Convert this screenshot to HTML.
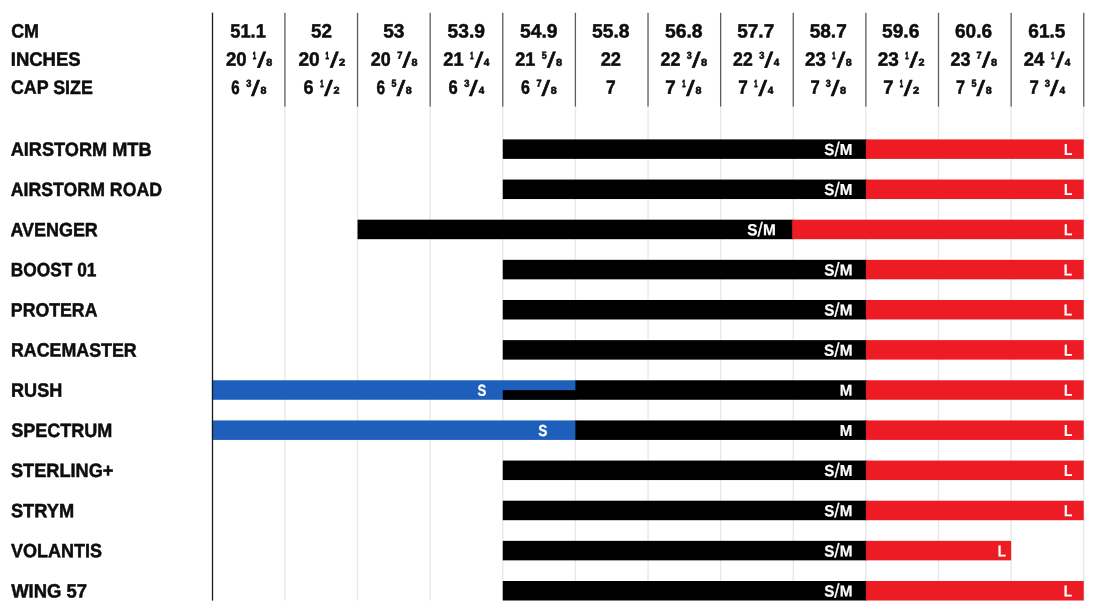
<!DOCTYPE html>
<html lang="en"><head><meta charset="utf-8"><title>Helmet size chart</title>
<style>
html,body{margin:0;padding:0;background:#fff;}
body{width:1100px;height:614px;overflow:hidden;}
svg{display:block;}
text{font-family:"Liberation Sans",sans-serif;font-weight:bold;stroke-linejoin:round;text-rendering:geometricPrecision;}
.r{font-weight:normal;}
</style></head><body>
<svg width="1100" height="614" viewBox="0 0 1100 614">
<rect width="1100" height="614" fill="#fff"/>
<g id="grid">
<rect x="284.27" y="106" width="1.3" height="494.5" fill="#e7e7e7"/>
<rect x="356.89" y="106" width="1.3" height="494.5" fill="#e7e7e7"/>
<rect x="429.51" y="106" width="1.3" height="494.5" fill="#e7e7e7"/>
<rect x="502.13" y="106" width="1.3" height="494.5" fill="#e7e7e7"/>
<rect x="574.75" y="106" width="1.3" height="494.5" fill="#e7e7e7"/>
<rect x="647.37" y="106" width="1.3" height="494.5" fill="#e7e7e7"/>
<rect x="719.99" y="106" width="1.3" height="494.5" fill="#e7e7e7"/>
<rect x="792.61" y="106" width="1.3" height="494.5" fill="#e7e7e7"/>
<rect x="865.23" y="106" width="1.3" height="494.5" fill="#e7e7e7"/>
<rect x="937.85" y="106" width="1.3" height="494.5" fill="#e7e7e7"/>
<rect x="1010.47" y="106" width="1.3" height="494.5" fill="#e7e7e7"/>
<rect x="1083.09" y="106" width="1.3" height="494.5" fill="#e7e7e7"/>
</g>
<g id="bars">
<rect x="502.78" y="139.40" width="364.10" height="19.5" fill="#000"/>
<rect x="865.88" y="139.40" width="217.86" height="19.5" fill="#ed1c24"/>
<rect x="502.78" y="179.55" width="364.10" height="19.5" fill="#000"/>
<rect x="865.88" y="179.55" width="217.86" height="19.5" fill="#ed1c24"/>
<rect x="357.54" y="219.69" width="435.63" height="19.5" fill="#000"/>
<rect x="792.17" y="219.69" width="291.57" height="19.5" fill="#ed1c24"/>
<rect x="502.78" y="259.84" width="364.10" height="19.5" fill="#000"/>
<rect x="865.88" y="259.84" width="217.86" height="19.5" fill="#ed1c24"/>
<rect x="502.78" y="299.98" width="364.10" height="19.5" fill="#000"/>
<rect x="865.88" y="299.98" width="217.86" height="19.5" fill="#ed1c24"/>
<rect x="502.78" y="340.12" width="364.10" height="19.5" fill="#000"/>
<rect x="865.88" y="340.12" width="217.86" height="19.5" fill="#ed1c24"/>
<rect x="211.90" y="380.27" width="364.50" height="19.5" fill="#1f5fbc"/>
<rect x="502.78" y="390.17" width="73.62" height="9.60" fill="#000"/>
<rect x="575.40" y="380.27" width="291.48" height="19.5" fill="#000"/>
<rect x="865.88" y="380.27" width="217.86" height="19.5" fill="#ed1c24"/>
<rect x="211.90" y="420.42" width="364.50" height="19.5" fill="#1f5fbc"/>
<rect x="575.40" y="420.42" width="291.48" height="19.5" fill="#000"/>
<rect x="865.88" y="420.42" width="217.86" height="19.5" fill="#ed1c24"/>
<rect x="502.78" y="460.56" width="364.10" height="19.5" fill="#000"/>
<rect x="865.88" y="460.56" width="217.86" height="19.5" fill="#ed1c24"/>
<rect x="502.78" y="500.71" width="364.10" height="19.5" fill="#000"/>
<rect x="865.88" y="500.71" width="217.86" height="19.5" fill="#ed1c24"/>
<rect x="502.78" y="540.85" width="364.10" height="19.5" fill="#000"/>
<rect x="865.88" y="540.85" width="145.24" height="19.5" fill="#ed1c24"/>
<rect x="502.78" y="581.00" width="364.10" height="19.5" fill="#000"/>
<rect x="865.88" y="581.00" width="217.86" height="19.5" fill="#ed1c24"/>
</g>
<g id="hdrlines">
<rect x="211.85" y="12.6" width="1.3" height="588" fill="#1a1a1a"/>
<rect x="284.27" y="12.8" width="1.3" height="93.7" fill="#5c5c5c"/>
<rect x="356.89" y="12.8" width="1.3" height="93.7" fill="#5c5c5c"/>
<rect x="429.51" y="12.8" width="1.3" height="93.7" fill="#5c5c5c"/>
<rect x="502.13" y="12.8" width="1.3" height="93.7" fill="#5c5c5c"/>
<rect x="574.75" y="12.8" width="1.3" height="93.7" fill="#5c5c5c"/>
<rect x="647.37" y="12.8" width="1.3" height="93.7" fill="#5c5c5c"/>
<rect x="719.99" y="12.8" width="1.3" height="93.7" fill="#5c5c5c"/>
<rect x="792.61" y="12.8" width="1.3" height="93.7" fill="#5c5c5c"/>
<rect x="865.23" y="12.8" width="1.3" height="93.7" fill="#5c5c5c"/>
<rect x="937.85" y="12.8" width="1.3" height="93.7" fill="#5c5c5c"/>
<rect x="1010.47" y="12.8" width="1.3" height="93.7" fill="#5c5c5c"/>
<rect x="1083.09" y="12.8" width="1.3" height="93.7" fill="#5c5c5c"/>
</g>
<g id="txt">
<text transform="translate(11.17 37.45) matrix(1 .0006 0 1 0 0)" font-size="19.3" fill="#0d0d0d" stroke="#0d0d0d" stroke-width="0.5" textLength="27.84" lengthAdjust="spacingAndGlyphs">CM</text>
<text transform="translate(10.76 65.65) matrix(1 .0006 0 1 0 0)" font-size="19.3" fill="#0d0d0d" stroke="#0d0d0d" stroke-width="0.5" textLength="69.91" lengthAdjust="spacingAndGlyphs">INCHES</text>
<text transform="translate(10.95 93.85) matrix(1 .0006 0 1 0 0)" font-size="19.3" fill="#0d0d0d" stroke="#0d0d0d" stroke-width="0.5" textLength="81.87" lengthAdjust="spacingAndGlyphs">CAP SIZE</text>
<text transform="translate(10.63 155.85) matrix(1 .0006 0 1 0 0)" font-size="19.3" fill="#0d0d0d" stroke="#0d0d0d" stroke-width="0.5" textLength="140.96" lengthAdjust="spacingAndGlyphs">AIRSTORM MTB</text>
<text transform="translate(10.71 196.00) matrix(1 .0006 0 1 0 0)" font-size="19.3" fill="#0d0d0d" stroke="#0d0d0d" stroke-width="0.5" textLength="151.32" lengthAdjust="spacingAndGlyphs">AIRSTORM ROAD</text>
<text transform="translate(10.44 236.14) matrix(1 .0006 0 1 0 0)" font-size="19.3" fill="#0d0d0d" stroke="#0d0d0d" stroke-width="0.5" textLength="87.37" lengthAdjust="spacingAndGlyphs">AVENGER</text>
<text transform="translate(10.84 276.28) matrix(1 .0006 0 1 0 0)" font-size="19.3" fill="#0d0d0d" stroke="#0d0d0d" stroke-width="0.5" textLength="85.64" lengthAdjust="spacingAndGlyphs">BOOST 01</text>
<text transform="translate(10.86 316.43) matrix(1 .0006 0 1 0 0)" font-size="19.3" fill="#0d0d0d" stroke="#0d0d0d" stroke-width="0.5" textLength="86.59" lengthAdjust="spacingAndGlyphs">PROTERA</text>
<text transform="translate(11.01 356.58) matrix(1 .0006 0 1 0 0)" font-size="19.3" fill="#0d0d0d" stroke="#0d0d0d" stroke-width="0.5" textLength="125.67" lengthAdjust="spacingAndGlyphs">RACEMASTER</text>
<text transform="translate(11.01 396.72) matrix(1 .0006 0 1 0 0)" font-size="19.3" fill="#0d0d0d" stroke="#0d0d0d" stroke-width="0.5" textLength="51.25" lengthAdjust="spacingAndGlyphs">RUSH</text>
<text transform="translate(11.15 436.87) matrix(1 .0006 0 1 0 0)" font-size="19.3" fill="#0d0d0d" stroke="#0d0d0d" stroke-width="0.5" textLength="101.22" lengthAdjust="spacingAndGlyphs">SPECTRUM</text>
<text transform="translate(10.99 477.01) matrix(1 .0006 0 1 0 0)" font-size="19.3" fill="#0d0d0d" stroke="#0d0d0d" stroke-width="0.5" textLength="102.45" lengthAdjust="spacingAndGlyphs">STERLING+</text>
<text transform="translate(10.92 517.15) matrix(1 .0006 0 1 0 0)" font-size="19.3" fill="#0d0d0d" stroke="#0d0d0d" stroke-width="0.5" textLength="63.22" lengthAdjust="spacingAndGlyphs">STRYM</text>
<text transform="translate(10.92 557.30) matrix(1 .0006 0 1 0 0)" font-size="19.3" fill="#0d0d0d" stroke="#0d0d0d" stroke-width="0.5" textLength="91.04" lengthAdjust="spacingAndGlyphs">VOLANTIS</text>
<text transform="translate(11.13 597.45) matrix(1 .0006 0 1 0 0)" font-size="19.3" fill="#0d0d0d" stroke="#0d0d0d" stroke-width="0.5" textLength="75.97" lengthAdjust="spacingAndGlyphs">WING 57</text>
<text transform="translate(230.23 37.45) matrix(1 .0006 0 1 0 0)" font-size="19.3" fill="#0d0d0d" stroke="#0d0d0d" stroke-width="0.5" textLength="35.62" lengthAdjust="spacingAndGlyphs">51.1</text>
<text transform="translate(225.90 65.65) matrix(1 .0006 0 1 0 0)" font-size="19.3" fill="#0d0d0d" stroke="#0d0d0d" stroke-width="0.5" textLength="20.63" lengthAdjust="spacingAndGlyphs">20</text>
<text transform="translate(252.82 58.65) matrix(1 .0006 0 1 0 0)" font-size="10.1" fill="#0d0d0d" stroke="#0d0d0d" stroke-width="0.9" textLength="3.40" lengthAdjust="spacingAndGlyphs">1</text>
<text class="r" transform="translate(257.19 67.50) matrix(1 .0006 0 1 0 0)" font-size="21.7" fill="#0d0d0d" stroke="#0d0d0d" stroke-width="0.6" textLength="8.62" lengthAdjust="spacingAndGlyphs">/</text>
<text transform="translate(266.24 65.65) matrix(1 .0006 0 1 0 0)" font-size="10.1" fill="#0d0d0d" stroke="#0d0d0d" stroke-width="0.6" textLength="5.98" lengthAdjust="spacingAndGlyphs">8</text>
<text transform="translate(231.30 93.85) matrix(1 .0006 0 1 0 0)" font-size="19.3" fill="#0d0d0d" stroke="#0d0d0d" stroke-width="0.5" textLength="8.38" lengthAdjust="spacingAndGlyphs">6</text>
<text transform="translate(246.19 86.85) matrix(1 .0006 0 1 0 0)" font-size="10.1" fill="#0d0d0d" stroke="#0d0d0d" stroke-width="0.6" textLength="5.16" lengthAdjust="spacingAndGlyphs">3</text>
<text class="r" transform="translate(251.31 95.70) matrix(1 .0006 0 1 0 0)" font-size="21.7" fill="#0d0d0d" stroke="#0d0d0d" stroke-width="0.6" textLength="8.47" lengthAdjust="spacingAndGlyphs">/</text>
<text transform="translate(260.40 93.85) matrix(1 .0006 0 1 0 0)" font-size="10.1" fill="#0d0d0d" stroke="#0d0d0d" stroke-width="0.6" textLength="5.97" lengthAdjust="spacingAndGlyphs">8</text>
<text transform="translate(311.12 37.45) matrix(1 .0006 0 1 0 0)" font-size="19.3" fill="#0d0d0d" stroke="#0d0d0d" stroke-width="0.5" textLength="20.90" lengthAdjust="spacingAndGlyphs">52</text>
<text transform="translate(298.41 65.65) matrix(1 .0006 0 1 0 0)" font-size="19.3" fill="#0d0d0d" stroke="#0d0d0d" stroke-width="0.5" textLength="21.31" lengthAdjust="spacingAndGlyphs">20</text>
<text transform="translate(325.58 58.65) matrix(1 .0006 0 1 0 0)" font-size="10.1" fill="#0d0d0d" stroke="#0d0d0d" stroke-width="0.9" textLength="3.41" lengthAdjust="spacingAndGlyphs">1</text>
<text class="r" transform="translate(329.92 67.50) matrix(1 .0006 0 1 0 0)" font-size="21.7" fill="#0d0d0d" stroke="#0d0d0d" stroke-width="0.6" textLength="8.50" lengthAdjust="spacingAndGlyphs">/</text>
<text transform="translate(339.02 65.65) matrix(1 .0006 0 1 0 0)" font-size="10.1" fill="#0d0d0d" stroke="#0d0d0d" stroke-width="0.6" textLength="6.15" lengthAdjust="spacingAndGlyphs">2</text>
<text transform="translate(303.62 93.85) matrix(1 .0006 0 1 0 0)" font-size="19.3" fill="#0d0d0d" stroke="#0d0d0d" stroke-width="0.5" textLength="10.00" lengthAdjust="spacingAndGlyphs">6</text>
<text transform="translate(320.17 86.85) matrix(1 .0006 0 1 0 0)" font-size="10.1" fill="#0d0d0d" stroke="#0d0d0d" stroke-width="0.9" textLength="3.28" lengthAdjust="spacingAndGlyphs">1</text>
<text class="r" transform="translate(324.31 95.70) matrix(1 .0006 0 1 0 0)" font-size="21.7" fill="#0d0d0d" stroke="#0d0d0d" stroke-width="0.6" textLength="8.47" lengthAdjust="spacingAndGlyphs">/</text>
<text transform="translate(333.50 93.85) matrix(1 .0006 0 1 0 0)" font-size="10.1" fill="#0d0d0d" stroke="#0d0d0d" stroke-width="0.6" textLength="6.00" lengthAdjust="spacingAndGlyphs">2</text>
<text transform="translate(383.16 37.45) matrix(1 .0006 0 1 0 0)" font-size="19.3" fill="#0d0d0d" stroke="#0d0d0d" stroke-width="0.5" textLength="21.26" lengthAdjust="spacingAndGlyphs">53</text>
<text transform="translate(370.86 65.65) matrix(1 .0006 0 1 0 0)" font-size="19.3" fill="#0d0d0d" stroke="#0d0d0d" stroke-width="0.5" textLength="19.92" lengthAdjust="spacingAndGlyphs">20</text>
<text transform="translate(397.14 58.65) matrix(1 .0006 0 1 0 0)" font-size="10.1" fill="#0d0d0d" stroke="#0d0d0d" stroke-width="0.6" textLength="5.23" lengthAdjust="spacingAndGlyphs">7</text>
<text class="r" transform="translate(402.40 67.50) matrix(1 .0006 0 1 0 0)" font-size="21.7" fill="#0d0d0d" stroke="#0d0d0d" stroke-width="0.6" textLength="8.52" lengthAdjust="spacingAndGlyphs">/</text>
<text transform="translate(411.40 65.65) matrix(1 .0006 0 1 0 0)" font-size="10.1" fill="#0d0d0d" stroke="#0d0d0d" stroke-width="0.6" textLength="5.97" lengthAdjust="spacingAndGlyphs">8</text>
<text transform="translate(376.43 93.85) matrix(1 .0006 0 1 0 0)" font-size="19.3" fill="#0d0d0d" stroke="#0d0d0d" stroke-width="0.5" textLength="8.59" lengthAdjust="spacingAndGlyphs">6</text>
<text transform="translate(391.40 86.85) matrix(1 .0006 0 1 0 0)" font-size="10.1" fill="#0d0d0d" stroke="#0d0d0d" stroke-width="0.6" textLength="4.94" lengthAdjust="spacingAndGlyphs">5</text>
<text class="r" transform="translate(396.75 95.70) matrix(1 .0006 0 1 0 0)" font-size="21.7" fill="#0d0d0d" stroke="#0d0d0d" stroke-width="0.6" textLength="8.49" lengthAdjust="spacingAndGlyphs">/</text>
<text transform="translate(405.83 93.85) matrix(1 .0006 0 1 0 0)" font-size="10.1" fill="#0d0d0d" stroke="#0d0d0d" stroke-width="0.6" textLength="5.97" lengthAdjust="spacingAndGlyphs">8</text>
<text transform="translate(447.61 37.45) matrix(1 .0006 0 1 0 0)" font-size="19.3" fill="#0d0d0d" stroke="#0d0d0d" stroke-width="0.5" textLength="37.42" lengthAdjust="spacingAndGlyphs">53.9</text>
<text transform="translate(443.33 65.65) matrix(1 .0006 0 1 0 0)" font-size="19.3" fill="#0d0d0d" stroke="#0d0d0d" stroke-width="0.5" textLength="20.30" lengthAdjust="spacingAndGlyphs">21</text>
<text transform="translate(470.21 58.65) matrix(1 .0006 0 1 0 0)" font-size="10.1" fill="#0d0d0d" stroke="#0d0d0d" stroke-width="0.9" textLength="3.19" lengthAdjust="spacingAndGlyphs">1</text>
<text class="r" transform="translate(474.73 67.50) matrix(1 .0006 0 1 0 0)" font-size="21.7" fill="#0d0d0d" stroke="#0d0d0d" stroke-width="0.6" textLength="8.50" lengthAdjust="spacingAndGlyphs">/</text>
<text transform="translate(483.80 65.65) matrix(1 .0006 0 1 0 0)" font-size="10.1" fill="#0d0d0d" stroke="#0d0d0d" stroke-width="0.6" textLength="5.52" lengthAdjust="spacingAndGlyphs">4</text>
<text transform="translate(448.45 93.85) matrix(1 .0006 0 1 0 0)" font-size="19.3" fill="#0d0d0d" stroke="#0d0d0d" stroke-width="0.5" textLength="9.19" lengthAdjust="spacingAndGlyphs">6</text>
<text transform="translate(464.19 86.85) matrix(1 .0006 0 1 0 0)" font-size="10.1" fill="#0d0d0d" stroke="#0d0d0d" stroke-width="0.6" textLength="5.16" lengthAdjust="spacingAndGlyphs">3</text>
<text class="r" transform="translate(469.31 95.70) matrix(1 .0006 0 1 0 0)" font-size="21.7" fill="#0d0d0d" stroke="#0d0d0d" stroke-width="0.6" textLength="8.47" lengthAdjust="spacingAndGlyphs">/</text>
<text transform="translate(478.67 93.85) matrix(1 .0006 0 1 0 0)" font-size="10.1" fill="#0d0d0d" stroke="#0d0d0d" stroke-width="0.6" textLength="5.47" lengthAdjust="spacingAndGlyphs">4</text>
<text transform="translate(520.00 37.45) matrix(1 .0006 0 1 0 0)" font-size="19.3" fill="#0d0d0d" stroke="#0d0d0d" stroke-width="0.5" textLength="37.58" lengthAdjust="spacingAndGlyphs">54.9</text>
<text transform="translate(515.14 65.65) matrix(1 .0006 0 1 0 0)" font-size="19.3" fill="#0d0d0d" stroke="#0d0d0d" stroke-width="0.5" textLength="20.04" lengthAdjust="spacingAndGlyphs">21</text>
<text transform="translate(541.80 58.65) matrix(1 .0006 0 1 0 0)" font-size="10.1" fill="#0d0d0d" stroke="#0d0d0d" stroke-width="0.6" textLength="4.92" lengthAdjust="spacingAndGlyphs">5</text>
<text class="r" transform="translate(546.92 67.50) matrix(1 .0006 0 1 0 0)" font-size="21.7" fill="#0d0d0d" stroke="#0d0d0d" stroke-width="0.6" textLength="8.50" lengthAdjust="spacingAndGlyphs">/</text>
<text transform="translate(555.89 65.65) matrix(1 .0006 0 1 0 0)" font-size="10.1" fill="#0d0d0d" stroke="#0d0d0d" stroke-width="0.6" textLength="6.12" lengthAdjust="spacingAndGlyphs">8</text>
<text transform="translate(521.08 93.85) matrix(1 .0006 0 1 0 0)" font-size="19.3" fill="#0d0d0d" stroke="#0d0d0d" stroke-width="0.5" textLength="8.87" lengthAdjust="spacingAndGlyphs">6</text>
<text transform="translate(536.38 86.85) matrix(1 .0006 0 1 0 0)" font-size="10.1" fill="#0d0d0d" stroke="#0d0d0d" stroke-width="0.6" textLength="5.06" lengthAdjust="spacingAndGlyphs">7</text>
<text class="r" transform="translate(541.49 95.70) matrix(1 .0006 0 1 0 0)" font-size="21.7" fill="#0d0d0d" stroke="#0d0d0d" stroke-width="0.6" textLength="8.48" lengthAdjust="spacingAndGlyphs">/</text>
<text transform="translate(550.69 93.85) matrix(1 .0006 0 1 0 0)" font-size="10.1" fill="#0d0d0d" stroke="#0d0d0d" stroke-width="0.6" textLength="5.99" lengthAdjust="spacingAndGlyphs">8</text>
<text transform="translate(592.00 37.45) matrix(1 .0006 0 1 0 0)" font-size="19.3" fill="#0d0d0d" stroke="#0d0d0d" stroke-width="0.5" textLength="37.56" lengthAdjust="spacingAndGlyphs">55.8</text>
<text transform="translate(600.70 65.65) matrix(1 .0006 0 1 0 0)" font-size="19.3" fill="#0d0d0d" stroke="#0d0d0d" stroke-width="0.5" textLength="20.35" lengthAdjust="spacingAndGlyphs">22</text>
<text transform="translate(605.89 93.85) matrix(1 .0006 0 1 0 0)" font-size="19.3" fill="#0d0d0d" stroke="#0d0d0d" stroke-width="0.5" textLength="9.66" lengthAdjust="spacingAndGlyphs">7</text>
<text transform="translate(665.00 37.45) matrix(1 .0006 0 1 0 0)" font-size="19.3" fill="#0d0d0d" stroke="#0d0d0d" stroke-width="0.5" textLength="37.56" lengthAdjust="spacingAndGlyphs">56.8</text>
<text transform="translate(660.55 65.65) matrix(1 .0006 0 1 0 0)" font-size="19.3" fill="#0d0d0d" stroke="#0d0d0d" stroke-width="0.5" textLength="19.88" lengthAdjust="spacingAndGlyphs">22</text>
<text transform="translate(686.74 58.65) matrix(1 .0006 0 1 0 0)" font-size="10.1" fill="#0d0d0d" stroke="#0d0d0d" stroke-width="0.6" textLength="5.01" lengthAdjust="spacingAndGlyphs">3</text>
<text class="r" transform="translate(691.92 67.50) matrix(1 .0006 0 1 0 0)" font-size="21.7" fill="#0d0d0d" stroke="#0d0d0d" stroke-width="0.6" textLength="8.50" lengthAdjust="spacingAndGlyphs">/</text>
<text transform="translate(700.89 65.65) matrix(1 .0006 0 1 0 0)" font-size="10.1" fill="#0d0d0d" stroke="#0d0d0d" stroke-width="0.6" textLength="6.12" lengthAdjust="spacingAndGlyphs">8</text>
<text transform="translate(665.34 93.85) matrix(1 .0006 0 1 0 0)" font-size="19.3" fill="#0d0d0d" stroke="#0d0d0d" stroke-width="0.5" textLength="10.44" lengthAdjust="spacingAndGlyphs">7</text>
<text transform="translate(682.17 86.85) matrix(1 .0006 0 1 0 0)" font-size="10.1" fill="#0d0d0d" stroke="#0d0d0d" stroke-width="0.9" textLength="3.28" lengthAdjust="spacingAndGlyphs">1</text>
<text class="r" transform="translate(686.31 95.70) matrix(1 .0006 0 1 0 0)" font-size="21.7" fill="#0d0d0d" stroke="#0d0d0d" stroke-width="0.6" textLength="8.47" lengthAdjust="spacingAndGlyphs">/</text>
<text transform="translate(695.40 93.85) matrix(1 .0006 0 1 0 0)" font-size="10.1" fill="#0d0d0d" stroke="#0d0d0d" stroke-width="0.6" textLength="5.97" lengthAdjust="spacingAndGlyphs">8</text>
<text transform="translate(737.24 37.45) matrix(1 .0006 0 1 0 0)" font-size="19.3" fill="#0d0d0d" stroke="#0d0d0d" stroke-width="0.5" textLength="36.95" lengthAdjust="spacingAndGlyphs">57.7</text>
<text transform="translate(733.12 65.65) matrix(1 .0006 0 1 0 0)" font-size="19.3" fill="#0d0d0d" stroke="#0d0d0d" stroke-width="0.5" textLength="19.56" lengthAdjust="spacingAndGlyphs">22</text>
<text transform="translate(759.19 58.65) matrix(1 .0006 0 1 0 0)" font-size="10.1" fill="#0d0d0d" stroke="#0d0d0d" stroke-width="0.6" textLength="5.16" lengthAdjust="spacingAndGlyphs">3</text>
<text class="r" transform="translate(764.40 67.50) matrix(1 .0006 0 1 0 0)" font-size="21.7" fill="#0d0d0d" stroke="#0d0d0d" stroke-width="0.6" textLength="8.52" lengthAdjust="spacingAndGlyphs">/</text>
<text transform="translate(773.67 65.65) matrix(1 .0006 0 1 0 0)" font-size="10.1" fill="#0d0d0d" stroke="#0d0d0d" stroke-width="0.6" textLength="5.47" lengthAdjust="spacingAndGlyphs">4</text>
<text transform="translate(738.36 93.85) matrix(1 .0006 0 1 0 0)" font-size="19.3" fill="#0d0d0d" stroke="#0d0d0d" stroke-width="0.5" textLength="9.55" lengthAdjust="spacingAndGlyphs">7</text>
<text transform="translate(754.21 86.85) matrix(1 .0006 0 1 0 0)" font-size="10.1" fill="#0d0d0d" stroke="#0d0d0d" stroke-width="0.9" textLength="3.19" lengthAdjust="spacingAndGlyphs">1</text>
<text class="r" transform="translate(758.49 95.70) matrix(1 .0006 0 1 0 0)" font-size="21.7" fill="#0d0d0d" stroke="#0d0d0d" stroke-width="0.6" textLength="8.48" lengthAdjust="spacingAndGlyphs">/</text>
<text transform="translate(767.80 93.85) matrix(1 .0006 0 1 0 0)" font-size="10.1" fill="#0d0d0d" stroke="#0d0d0d" stroke-width="0.6" textLength="5.52" lengthAdjust="spacingAndGlyphs">4</text>
<text transform="translate(809.64 37.45) matrix(1 .0006 0 1 0 0)" font-size="19.3" fill="#0d0d0d" stroke="#0d0d0d" stroke-width="0.5" textLength="37.14" lengthAdjust="spacingAndGlyphs">58.7</text>
<text transform="translate(805.12 65.65) matrix(1 .0006 0 1 0 0)" font-size="19.3" fill="#0d0d0d" stroke="#0d0d0d" stroke-width="0.5" textLength="20.81" lengthAdjust="spacingAndGlyphs">23</text>
<text transform="translate(832.21 58.65) matrix(1 .0006 0 1 0 0)" font-size="10.1" fill="#0d0d0d" stroke="#0d0d0d" stroke-width="0.9" textLength="3.19" lengthAdjust="spacingAndGlyphs">1</text>
<text class="r" transform="translate(836.73 67.50) matrix(1 .0006 0 1 0 0)" font-size="21.7" fill="#0d0d0d" stroke="#0d0d0d" stroke-width="0.6" textLength="8.50" lengthAdjust="spacingAndGlyphs">/</text>
<text transform="translate(845.69 65.65) matrix(1 .0006 0 1 0 0)" font-size="10.1" fill="#0d0d0d" stroke="#0d0d0d" stroke-width="0.6" textLength="5.99" lengthAdjust="spacingAndGlyphs">8</text>
<text transform="translate(810.47 93.85) matrix(1 .0006 0 1 0 0)" font-size="19.3" fill="#0d0d0d" stroke="#0d0d0d" stroke-width="0.5" textLength="9.25" lengthAdjust="spacingAndGlyphs">7</text>
<text transform="translate(825.74 86.85) matrix(1 .0006 0 1 0 0)" font-size="10.1" fill="#0d0d0d" stroke="#0d0d0d" stroke-width="0.6" textLength="5.01" lengthAdjust="spacingAndGlyphs">3</text>
<text class="r" transform="translate(830.92 95.70) matrix(1 .0006 0 1 0 0)" font-size="21.7" fill="#0d0d0d" stroke="#0d0d0d" stroke-width="0.6" textLength="8.47" lengthAdjust="spacingAndGlyphs">/</text>
<text transform="translate(839.89 93.85) matrix(1 .0006 0 1 0 0)" font-size="10.1" fill="#0d0d0d" stroke="#0d0d0d" stroke-width="0.6" textLength="6.12" lengthAdjust="spacingAndGlyphs">8</text>
<text transform="translate(881.99 37.45) matrix(1 .0006 0 1 0 0)" font-size="19.3" fill="#0d0d0d" stroke="#0d0d0d" stroke-width="0.5" textLength="37.32" lengthAdjust="spacingAndGlyphs">59.6</text>
<text transform="translate(877.65 65.65) matrix(1 .0006 0 1 0 0)" font-size="19.3" fill="#0d0d0d" stroke="#0d0d0d" stroke-width="0.5" textLength="21.12" lengthAdjust="spacingAndGlyphs">23</text>
<text transform="translate(905.17 58.65) matrix(1 .0006 0 1 0 0)" font-size="10.1" fill="#0d0d0d" stroke="#0d0d0d" stroke-width="0.9" textLength="3.28" lengthAdjust="spacingAndGlyphs">1</text>
<text class="r" transform="translate(909.40 67.50) matrix(1 .0006 0 1 0 0)" font-size="21.7" fill="#0d0d0d" stroke="#0d0d0d" stroke-width="0.6" textLength="8.52" lengthAdjust="spacingAndGlyphs">/</text>
<text transform="translate(918.50 65.65) matrix(1 .0006 0 1 0 0)" font-size="10.1" fill="#0d0d0d" stroke="#0d0d0d" stroke-width="0.6" textLength="6.00" lengthAdjust="spacingAndGlyphs">2</text>
<text transform="translate(883.14 93.85) matrix(1 .0006 0 1 0 0)" font-size="19.3" fill="#0d0d0d" stroke="#0d0d0d" stroke-width="0.5" textLength="10.28" lengthAdjust="spacingAndGlyphs">7</text>
<text transform="translate(899.66 86.85) matrix(1 .0006 0 1 0 0)" font-size="10.1" fill="#0d0d0d" stroke="#0d0d0d" stroke-width="0.9" textLength="3.25" lengthAdjust="spacingAndGlyphs">1</text>
<text class="r" transform="translate(903.77 95.70) matrix(1 .0006 0 1 0 0)" font-size="21.7" fill="#0d0d0d" stroke="#0d0d0d" stroke-width="0.6" textLength="8.48" lengthAdjust="spacingAndGlyphs">/</text>
<text transform="translate(912.90 93.85) matrix(1 .0006 0 1 0 0)" font-size="10.1" fill="#0d0d0d" stroke="#0d0d0d" stroke-width="0.6" textLength="6.17" lengthAdjust="spacingAndGlyphs">2</text>
<text transform="translate(955.04 37.45) matrix(1 .0006 0 1 0 0)" font-size="19.3" fill="#0d0d0d" stroke="#0d0d0d" stroke-width="0.5" textLength="36.92" lengthAdjust="spacingAndGlyphs">60.6</text>
<text transform="translate(950.54 65.65) matrix(1 .0006 0 1 0 0)" font-size="19.3" fill="#0d0d0d" stroke="#0d0d0d" stroke-width="0.5" textLength="19.92" lengthAdjust="spacingAndGlyphs">23</text>
<text transform="translate(976.58 58.65) matrix(1 .0006 0 1 0 0)" font-size="10.1" fill="#0d0d0d" stroke="#0d0d0d" stroke-width="0.6" textLength="5.13" lengthAdjust="spacingAndGlyphs">7</text>
<text class="r" transform="translate(981.92 67.50) matrix(1 .0006 0 1 0 0)" font-size="21.7" fill="#0d0d0d" stroke="#0d0d0d" stroke-width="0.6" textLength="8.50" lengthAdjust="spacingAndGlyphs">/</text>
<text transform="translate(990.89 65.65) matrix(1 .0006 0 1 0 0)" font-size="10.1" fill="#0d0d0d" stroke="#0d0d0d" stroke-width="0.6" textLength="6.12" lengthAdjust="spacingAndGlyphs">8</text>
<text transform="translate(955.95 93.85) matrix(1 .0006 0 1 0 0)" font-size="19.3" fill="#0d0d0d" stroke="#0d0d0d" stroke-width="0.5" textLength="9.02" lengthAdjust="spacingAndGlyphs">7</text>
<text transform="translate(971.45 86.85) matrix(1 .0006 0 1 0 0)" font-size="10.1" fill="#0d0d0d" stroke="#0d0d0d" stroke-width="0.6" textLength="4.98" lengthAdjust="spacingAndGlyphs">5</text>
<text class="r" transform="translate(976.49 95.70) matrix(1 .0006 0 1 0 0)" font-size="21.7" fill="#0d0d0d" stroke="#0d0d0d" stroke-width="0.6" textLength="8.48" lengthAdjust="spacingAndGlyphs">/</text>
<text transform="translate(985.69 93.85) matrix(1 .0006 0 1 0 0)" font-size="10.1" fill="#0d0d0d" stroke="#0d0d0d" stroke-width="0.6" textLength="5.99" lengthAdjust="spacingAndGlyphs">8</text>
<text transform="translate(1028.32 37.45) matrix(1 .0006 0 1 0 0)" font-size="19.3" fill="#0d0d0d" stroke="#0d0d0d" stroke-width="0.5" textLength="37.11" lengthAdjust="spacingAndGlyphs">61.5</text>
<text transform="translate(1023.73 65.65) matrix(1 .0006 0 1 0 0)" font-size="19.3" fill="#0d0d0d" stroke="#0d0d0d" stroke-width="0.5" textLength="20.55" lengthAdjust="spacingAndGlyphs">24</text>
<text transform="translate(1051.21 58.65) matrix(1 .0006 0 1 0 0)" font-size="10.1" fill="#0d0d0d" stroke="#0d0d0d" stroke-width="0.9" textLength="3.19" lengthAdjust="spacingAndGlyphs">1</text>
<text class="r" transform="translate(1055.73 67.50) matrix(1 .0006 0 1 0 0)" font-size="21.7" fill="#0d0d0d" stroke="#0d0d0d" stroke-width="0.6" textLength="8.50" lengthAdjust="spacingAndGlyphs">/</text>
<text transform="translate(1064.80 65.65) matrix(1 .0006 0 1 0 0)" font-size="10.1" fill="#0d0d0d" stroke="#0d0d0d" stroke-width="0.6" textLength="5.52" lengthAdjust="spacingAndGlyphs">4</text>
<text transform="translate(1029.39 93.85) matrix(1 .0006 0 1 0 0)" font-size="19.3" fill="#0d0d0d" stroke="#0d0d0d" stroke-width="0.5" textLength="9.31" lengthAdjust="spacingAndGlyphs">7</text>
<text transform="translate(1044.74 86.85) matrix(1 .0006 0 1 0 0)" font-size="10.1" fill="#0d0d0d" stroke="#0d0d0d" stroke-width="0.6" textLength="5.18" lengthAdjust="spacingAndGlyphs">3</text>
<text class="r" transform="translate(1050.08 95.70) matrix(1 .0006 0 1 0 0)" font-size="21.7" fill="#0d0d0d" stroke="#0d0d0d" stroke-width="0.6" textLength="8.47" lengthAdjust="spacingAndGlyphs">/</text>
<text transform="translate(1059.40 93.85) matrix(1 .0006 0 1 0 0)" font-size="10.1" fill="#0d0d0d" stroke="#0d0d0d" stroke-width="0.6" textLength="5.61" lengthAdjust="spacingAndGlyphs">4</text>
<text transform="translate(824.24 154.95) matrix(1 .0006 0 1 0 0)" font-size="16.0" fill="#fff" stroke="#fff" stroke-width="0.2" textLength="28.13" lengthAdjust="spacingAndGlyphs">S<tspan class="r" font-size="20" dy="1.1">/</tspan><tspan dy="-1.1">M</tspan></text>
<text transform="translate(1063.91 154.95) matrix(1 .0006 0 1 0 0)" font-size="16.0" fill="#fff" stroke="#fff" stroke-width="0.2" textLength="8.40" lengthAdjust="spacingAndGlyphs">L</text>
<text transform="translate(824.24 195.10) matrix(1 .0006 0 1 0 0)" font-size="16.0" fill="#fff" stroke="#fff" stroke-width="0.2" textLength="28.13" lengthAdjust="spacingAndGlyphs">S<tspan class="r" font-size="20" dy="1.1">/</tspan><tspan dy="-1.1">M</tspan></text>
<text transform="translate(1063.91 195.10) matrix(1 .0006 0 1 0 0)" font-size="16.0" fill="#fff" stroke="#fff" stroke-width="0.2" textLength="8.40" lengthAdjust="spacingAndGlyphs">L</text>
<text transform="translate(747.33 235.24) matrix(1 .0006 0 1 0 0)" font-size="16.0" fill="#fff" stroke="#fff" stroke-width="0.2" textLength="28.49" lengthAdjust="spacingAndGlyphs">S<tspan class="r" font-size="20" dy="1.1">/</tspan><tspan dy="-1.1">M</tspan></text>
<text transform="translate(1063.91 235.24) matrix(1 .0006 0 1 0 0)" font-size="16.0" fill="#fff" stroke="#fff" stroke-width="0.2" textLength="8.40" lengthAdjust="spacingAndGlyphs">L</text>
<text transform="translate(824.14 275.39) matrix(1 .0006 0 1 0 0)" font-size="16.0" fill="#fff" stroke="#fff" stroke-width="0.2" textLength="28.31" lengthAdjust="spacingAndGlyphs">S<tspan class="r" font-size="20" dy="1.1">/</tspan><tspan dy="-1.1">M</tspan></text>
<text transform="translate(1063.87 275.39) matrix(1 .0006 0 1 0 0)" font-size="16.0" fill="#fff" stroke="#fff" stroke-width="0.2" textLength="8.35" lengthAdjust="spacingAndGlyphs">L</text>
<text transform="translate(824.14 315.53) matrix(1 .0006 0 1 0 0)" font-size="16.0" fill="#fff" stroke="#fff" stroke-width="0.2" textLength="28.31" lengthAdjust="spacingAndGlyphs">S<tspan class="r" font-size="20" dy="1.1">/</tspan><tspan dy="-1.1">M</tspan></text>
<text transform="translate(1063.87 315.53) matrix(1 .0006 0 1 0 0)" font-size="16.0" fill="#fff" stroke="#fff" stroke-width="0.2" textLength="8.35" lengthAdjust="spacingAndGlyphs">L</text>
<text transform="translate(824.09 355.68) matrix(1 .0006 0 1 0 0)" font-size="16.0" fill="#fff" stroke="#fff" stroke-width="0.2" textLength="28.40" lengthAdjust="spacingAndGlyphs">S<tspan class="r" font-size="20" dy="1.1">/</tspan><tspan dy="-1.1">M</tspan></text>
<text transform="translate(1063.88 355.68) matrix(1 .0006 0 1 0 0)" font-size="16.0" fill="#fff" stroke="#fff" stroke-width="0.2" textLength="8.35" lengthAdjust="spacingAndGlyphs">L</text>
<text transform="translate(477.60 395.82) matrix(1 .0006 0 1 0 0)" font-size="16.0" fill="#fff" stroke="#fff" stroke-width="0.2" textLength="8.88" lengthAdjust="spacingAndGlyphs">S</text>
<text transform="translate(839.81 395.82) matrix(1 .0006 0 1 0 0)" font-size="16.0" fill="#fff" stroke="#fff" stroke-width="0.2" textLength="12.60" lengthAdjust="spacingAndGlyphs">M</text>
<text transform="translate(1063.88 395.82) matrix(1 .0006 0 1 0 0)" font-size="16.0" fill="#fff" stroke="#fff" stroke-width="0.2" textLength="8.35" lengthAdjust="spacingAndGlyphs">L</text>
<text transform="translate(538.31 435.97) matrix(1 .0006 0 1 0 0)" font-size="16.0" fill="#fff" stroke="#fff" stroke-width="0.2" textLength="9.18" lengthAdjust="spacingAndGlyphs">S</text>
<text transform="translate(839.81 435.97) matrix(1 .0006 0 1 0 0)" font-size="16.0" fill="#fff" stroke="#fff" stroke-width="0.2" textLength="12.60" lengthAdjust="spacingAndGlyphs">M</text>
<text transform="translate(1063.91 435.97) matrix(1 .0006 0 1 0 0)" font-size="16.0" fill="#fff" stroke="#fff" stroke-width="0.2" textLength="8.40" lengthAdjust="spacingAndGlyphs">L</text>
<text transform="translate(824.24 476.11) matrix(1 .0006 0 1 0 0)" font-size="16.0" fill="#fff" stroke="#fff" stroke-width="0.2" textLength="28.13" lengthAdjust="spacingAndGlyphs">S<tspan class="r" font-size="20" dy="1.1">/</tspan><tspan dy="-1.1">M</tspan></text>
<text transform="translate(1063.91 476.11) matrix(1 .0006 0 1 0 0)" font-size="16.0" fill="#fff" stroke="#fff" stroke-width="0.2" textLength="8.40" lengthAdjust="spacingAndGlyphs">L</text>
<text transform="translate(824.19 516.25) matrix(1 .0006 0 1 0 0)" font-size="16.0" fill="#fff" stroke="#fff" stroke-width="0.2" textLength="28.13" lengthAdjust="spacingAndGlyphs">S<tspan class="r" font-size="20" dy="1.1">/</tspan><tspan dy="-1.1">M</tspan></text>
<text transform="translate(1063.91 516.25) matrix(1 .0006 0 1 0 0)" font-size="16.0" fill="#fff" stroke="#fff" stroke-width="0.2" textLength="8.40" lengthAdjust="spacingAndGlyphs">L</text>
<text transform="translate(824.14 556.40) matrix(1 .0006 0 1 0 0)" font-size="16.0" fill="#fff" stroke="#fff" stroke-width="0.2" textLength="28.31" lengthAdjust="spacingAndGlyphs">S<tspan class="r" font-size="20" dy="1.1">/</tspan><tspan dy="-1.1">M</tspan></text>
<text transform="translate(997.64 556.40) matrix(1 .0006 0 1 0 0)" font-size="16.0" fill="#fff" stroke="#fff" stroke-width="0.2" textLength="8.18" lengthAdjust="spacingAndGlyphs">L</text>
<text transform="translate(824.14 596.54) matrix(1 .0006 0 1 0 0)" font-size="16.0" fill="#fff" stroke="#fff" stroke-width="0.2" textLength="28.31" lengthAdjust="spacingAndGlyphs">S<tspan class="r" font-size="20" dy="1.1">/</tspan><tspan dy="-1.1">M</tspan></text>
<text transform="translate(1063.87 596.54) matrix(1 .0006 0 1 0 0)" font-size="16.0" fill="#fff" stroke="#fff" stroke-width="0.2" textLength="8.35" lengthAdjust="spacingAndGlyphs">L</text>
</g>
</svg>
</body></html>
